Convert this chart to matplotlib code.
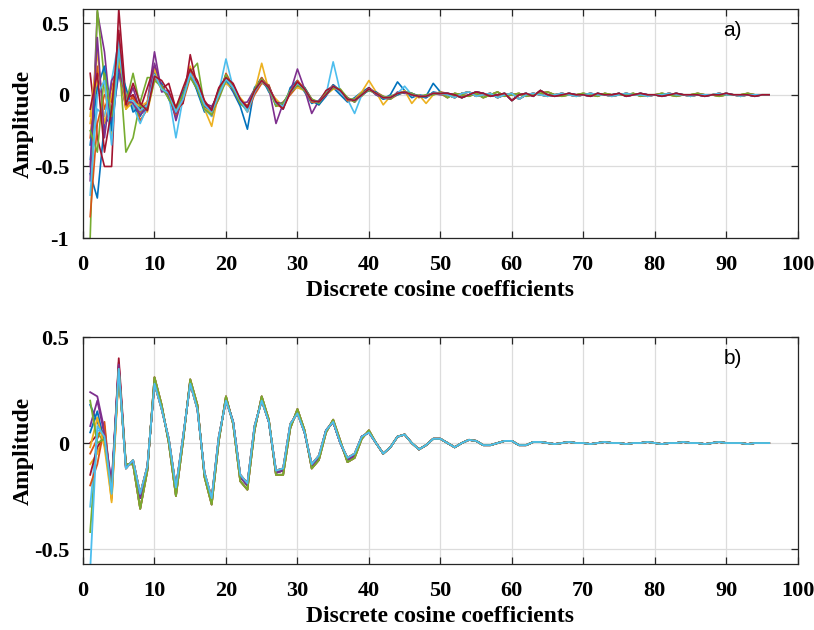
import matplotlib
matplotlib.use("Agg")
import matplotlib.pyplot as plt
import numpy as np

# matlab default colour order
blue = "#0072BD"
orange = "#D95319"
yellow = "#EDB120"
purple = "#7E2F8E"
green = "#77AC30"
ltblue = "#4DBEEE"
dkred = "#A2142F"

coef = np.arange(1, 97)

# ---- panel a: raw spectra, coefficients 1..50 per line, then shared tails 51..96
a_colors = [blue, orange, yellow, purple, green, ltblue, dkred,
            blue, orange, yellow, purple, green, ltblue, dkred]

a1 = [-0.55, -0.72, -0.20, -0.15, 0.30, -0.02, -0.08, -0.15, -0.05, 0.12,
      0.08, -0.03, -0.15, 0.00, 0.18, 0.02, -0.12, -0.10, 0.03, 0.10,
      0.02, -0.08, -0.24, 0.05, 0.12, 0.02, -0.05, -0.10, 0.05, 0.10,
      0.02, -0.06, -0.04, 0.02, 0.05, 0.00, -0.05, -0.02, 0.02, 0.05,
      0.00, -0.03, 0.00, 0.09, 0.03, -0.02, 0.00, -0.01, 0.08, 0.02]
a2 = [-0.30, 0.20, -0.10, 0.05, 0.20, -0.10, 0.00, -0.18, -0.10, 0.18,
      0.03, 0.02, -0.10, -0.05, 0.12, 0.08, -0.05, -0.15, -0.02, 0.15,
      0.06, -0.03, -0.12, 0.00, 0.08, 0.07, -0.08, -0.05, 0.00, 0.06,
      0.05, -0.03, -0.07, 0.01, 0.07, 0.02, -0.02, -0.05, 0.01, 0.03,
      0.02, -0.01, -0.03, 0.00, 0.02, 0.01, -0.02, 0.00, 0.00, 0.02]
a3 = [-0.20, 0.10, 0.05, -0.30, 0.35, 0.00, -0.10, -0.05, -0.12, 0.10,
      0.06, -0.02, -0.08, 0.02, 0.20, 0.04, -0.10, -0.22, 0.02, 0.08,
      0.04, -0.02, -0.08, 0.02, 0.22, 0.03, -0.03, -0.08, 0.03, 0.05,
      0.03, -0.05, -0.06, 0.00, 0.04, 0.04, -0.04, -0.03, 0.02, 0.10,
      0.02, -0.07, -0.01, 0.00, 0.03, -0.06, 0.00, -0.06, 0.00, 0.01]
a4 = [-0.60, 0.58, 0.30, -0.20, 0.15, -0.08, 0.05, -0.12, -0.05, 0.30,
      0.02, 0.03, -0.18, 0.00, 0.14, 0.06, -0.06, -0.08, 0.00, 0.14,
      0.03, -0.06, -0.05, 0.04, 0.09, 0.05, -0.20, -0.06, 0.02, 0.18,
      0.04, -0.13, -0.04, 0.01, 0.06, 0.02, -0.02, -0.05, 0.00, 0.04,
      0.00, -0.02, -0.03, 0.02, 0.01, 0.01, -0.01, -0.02, 0.01, 0.00]
a5 = [-1.00, 0.60, 0.10, -0.05, 0.28, -0.40, -0.30, -0.05, 0.12, 0.12,
      0.04, 0.00, -0.12, -0.04, 0.16, 0.22, -0.08, -0.12, -0.03, 0.10,
      0.06, -0.04, -0.10, 0.02, 0.11, 0.06, -0.07, -0.06, 0.01, 0.07,
      0.05, -0.03, -0.05, 0.00, 0.05, 0.03, -0.03, -0.03, -0.01, 0.04,
      0.01, -0.02, -0.01, 0.01, 0.02, 0.00, -0.01, 0.00, 0.01, 0.01]
a6 = [-0.45, -0.10, -0.15, 0.10, 0.38, -0.05, -0.08, -0.20, -0.08, 0.14,
      0.05, 0.00, -0.30, -0.02, 0.16, 0.05, -0.10, -0.15, 0.02, 0.25,
      0.05, -0.05, -0.12, 0.03, 0.10, 0.04, -0.06, -0.08, 0.03, 0.08,
      0.03, -0.04, -0.06, 0.00, 0.23, 0.02, -0.03, -0.13, 0.00, 0.04,
      0.01, -0.02, -0.02, 0.01, 0.06, 0.00, -0.01, -0.01, 0.01, 0.01]
a7 = [0.15, -0.30, -0.50, -0.50, 0.60, -0.03, 0.00, -0.10, 0.05, 0.20,
      0.04, 0.08, -0.10, -0.06, 0.28, 0.05, -0.06, -0.10, 0.04, 0.12,
      0.07, -0.04, -0.08, 0.02, 0.10, 0.06, -0.05, -0.07, 0.02, 0.09,
      0.03, -0.04, -0.05, 0.03, 0.06, 0.03, -0.03, -0.04, 0.00, 0.05,
      0.01, -0.02, -0.02, 0.01, 0.02, 0.00, -0.01, -0.01, 0.01, 0.01]
a8 = [-0.35, 0.05, 0.20, -0.25, 0.20, 0.05, -0.12, -0.08, -0.10, 0.16,
      0.05, -0.02, -0.12, 0.02, 0.13, 0.03, -0.10, -0.10, 0.02, 0.11,
      0.04, -0.06, -0.10, 0.04, 0.09, 0.04, -0.06, -0.06, 0.02, 0.08,
      0.05, -0.04, -0.07, -0.01, 0.07, 0.03, -0.03, -0.04, 0.00, 0.03,
      0.02, -0.03, -0.02, 0.00, 0.02, 0.01, -0.01, -0.02, 0.02, 0.01]
a9 = [-0.85, -0.20, 0.00, -0.05, 0.22, -0.08, -0.02, -0.12, -0.06, 0.12,
      0.06, -0.01, -0.14, -0.03, 0.17, 0.04, -0.07, -0.14, -0.01, 0.13,
      0.05, -0.05, -0.09, 0.03, 0.12, 0.05, -0.07, -0.09, 0.01, 0.10,
      0.04, -0.05, -0.05, 0.01, 0.05, 0.03, -0.04, -0.04, 0.01, 0.04,
      0.01, -0.02, -0.02, 0.01, 0.02, 0.00, -0.01, -0.01, 0.01, 0.01]
a10 = [-0.15, 0.30, -0.20, 0.00, 0.25, -0.10, -0.05, -0.08, -0.05, 0.18,
       0.04, 0.01, -0.11, -0.01, 0.14, 0.06, -0.09, -0.13, 0.00, 0.12,
       0.05, -0.05, -0.11, 0.03, 0.09, 0.05, -0.06, -0.07, 0.02, 0.08,
       0.04, -0.04, -0.05, 0.00, 0.06, 0.03, -0.03, -0.04, 0.00, 0.04,
       0.01, -0.02, -0.02, 0.01, 0.02, 0.00, -0.01, -0.01, 0.01, 0.01]
a11 = [-0.50, 0.40, -0.30, 0.10, 0.18, -0.02, -0.06, -0.14, -0.09, 0.22,
       0.05, 0.00, -0.13, -0.02, 0.15, 0.05, -0.08, -0.11, 0.00, 0.12,
       0.05, -0.05, -0.10, 0.03, 0.10, 0.05, -0.06, -0.07, 0.02, 0.08,
       0.04, -0.04, -0.05, 0.00, 0.06, 0.03, -0.03, -0.04, 0.00, 0.04,
       0.01, -0.02, -0.02, 0.01, 0.02, 0.00, -0.01, -0.01, 0.01, 0.01]
a12 = [-0.25, -0.40, 0.15, -0.15, 0.30, -0.06, 0.15, -0.08, -0.10, 0.10,
       0.06, -0.03, -0.10, 0.00, 0.12, 0.04, -0.10, -0.14, 0.01, 0.14,
       0.04, -0.06, -0.10, 0.04, 0.11, 0.04, -0.08, -0.06, 0.03, 0.07,
       0.03, -0.03, -0.06, 0.01, 0.05, 0.04, -0.02, -0.05, 0.01, 0.03,
       0.01, -0.01, -0.03, 0.01, 0.02, 0.01, -0.01, -0.01, 0.00, 0.02]
a13 = [-0.70, 0.00, 0.10, -0.35, 0.32, -0.04, -0.04, -0.11, -0.07, 0.14,
       0.04, 0.01, -0.12, -0.03, 0.15, 0.06, -0.07, -0.12, 0.00, 0.11,
       0.05, -0.04, -0.11, 0.02, 0.10, 0.05, -0.06, -0.08, 0.02, 0.08,
       0.04, -0.04, -0.05, 0.00, 0.06, 0.02, -0.03, -0.04, 0.00, 0.04,
       0.01, -0.02, -0.02, 0.01, 0.02, 0.00, -0.01, -0.01, 0.01, 0.01]
a14 = [-0.10, 0.15, -0.40, -0.10, 0.45, -0.07, 0.08, -0.06, -0.11, 0.13,
       0.10, 0.02, -0.09, 0.05, 0.18, 0.10, -0.04, -0.11, 0.05, 0.12,
       0.08, -0.03, -0.09, 0.03, 0.10, 0.05, -0.05, -0.10, 0.02, 0.09,
       0.04, -0.04, -0.05, 0.00, 0.06, 0.03, -0.03, -0.04, 0.00, 0.04,
       0.01, -0.02, -0.02, 0.01, 0.02, 0.00, -0.01, -0.01, 0.01, 0.01]

tail_a1 = [0.00, -0.02, 0.01, 0.02, -0.01, 0.00, 0.01, -0.02, 0.00, 0.01,
           -0.03, 0.00, 0.01, 0.00, -0.01, 0.00, 0.01, 0.00, -0.01, 0.00,
           0.01, 0.00, 0.00, -0.01, 0.00, 0.01, 0.00, 0.00, -0.01, 0.00,
           0.00, 0.01, 0.00, 0.00, -0.01, 0.00, 0.00, 0.00, 0.01, 0.00,
           0.00, -0.01, 0.00, 0.00, 0.00, 0.00]
tail_a2 = [0.01, 0.00, -0.02, 0.00, 0.02, 0.01, -0.01, 0.00, 0.01, -0.04,
           0.00, 0.01, -0.01, 0.03, 0.00, -0.01, 0.00, 0.01, 0.00, 0.00,
           -0.01, 0.01, 0.00, 0.00, 0.01, -0.01, 0.00, 0.01, 0.00, 0.00,
           -0.01, 0.00, 0.01, 0.00, 0.00, 0.00, -0.01, 0.00, 0.00, 0.01,
           0.00, 0.00, 0.00, -0.01, 0.00, 0.00]
tail_a3 = [-0.02, 0.01, 0.00, -0.01, 0.01, -0.02, 0.00, 0.02, -0.01, 0.00,
           0.01, -0.01, 0.00, 0.01, 0.02, 0.00, -0.01, 0.00, 0.00, 0.01,
           0.00, -0.01, 0.01, 0.00, 0.00, 0.00, 0.01, -0.01, 0.00, 0.00,
           0.01, 0.00, -0.01, 0.00, 0.00, 0.01, 0.00, 0.00, -0.01, 0.00,
           0.00, 0.00, 0.01, 0.00, 0.00, 0.00]

a_heads = [a1, a2, a3, a4, a5, a6, a7, a8, a9, a10, a11, a12, a13, a14]
a_tails = [tail_a1, tail_a2, tail_a3]

# ---- panel b: smoothed spectra, first 5 coefficients per line, then shared body
b_colors = [dkred, blue, orange, yellow, purple, green, ltblue,
            dkred, blue, orange, yellow, purple, green, ltblue]
b_heads = [
    [0.00, 0.04, 0.06, -0.24, 0.40],
    [0.18, 0.10, 0.02, -0.22, 0.35],
    [-0.05, 0.02, 0.10, -0.25, 0.34],
    [-0.10, -0.05, 0.05, -0.28, 0.33],
    [0.24, 0.22, 0.06, -0.20, 0.36],
    [-0.42, 0.05, 0.00, -0.22, 0.35],
    [-0.30, 0.06, 0.05, -0.22, 0.35],
    [-0.15, -0.02, 0.04, -0.23, 0.38],
    [0.05, 0.15, 0.00, -0.21, 0.34],
    [-0.20, -0.10, 0.08, -0.26, 0.35],
    [-0.02, 0.12, -0.02, -0.27, 0.34],
    [0.08, 0.20, 0.04, -0.19, 0.37],
    [0.20, 0.00, 0.02, -0.23, 0.35],
    [-0.60, 0.08, 0.03, -0.24, 0.35],
]
# coefficients 6..40
b_mid = [-0.11, -0.09, -0.26, -0.12, 0.29, 0.17, 0.01, -0.22, 0.02, 0.29,
         0.17, -0.15, -0.27, 0.02, 0.21, 0.10, -0.16, -0.20, 0.07, 0.21,
         0.10, -0.14, -0.13, 0.08, 0.15, 0.05, -0.11, -0.07, 0.06, 0.10,
         0.00, -0.08, -0.06, 0.03, 0.05]
b_mid_lo = [-0.10, -0.10, -0.31, -0.13, 0.31, 0.18, 0.00, -0.25, 0.01, 0.30,
            0.18, -0.16, -0.29, 0.01, 0.22, 0.09, -0.18, -0.22, 0.06, 0.22,
            0.11, -0.15, -0.15, 0.07, 0.16, 0.06, -0.12, -0.08, 0.05, 0.11,
            0.01, -0.09, -0.07, 0.02, 0.06]
b_mid_hi = [-0.12, -0.08, -0.24, -0.11, 0.28, 0.16, 0.02, -0.21, 0.03, 0.28,
            0.16, -0.14, -0.26, 0.03, 0.20, 0.10, -0.15, -0.19, 0.08, 0.20,
            0.10, -0.13, -0.12, 0.09, 0.14, 0.05, -0.10, -0.06, 0.06, 0.10,
            0.00, -0.07, -0.05, 0.03, 0.05]
# coefficients 41..96
b_tail = [0.00, -0.05, -0.02, 0.03, 0.04, 0.00, -0.03, -0.01, 0.02, 0.02,
          0.00, -0.02, 0.00, 0.015, 0.01, -0.01, -0.01, 0.00, 0.01, 0.01,
          -0.01, -0.01, 0.005, 0.005, 0.00, -0.005, 0.00, 0.005, 0.00, 0.00,
          -0.005, 0.00, 0.005, 0.00, 0.00, -0.005, 0.00, 0.00, 0.005, 0.00,
          -0.005, 0.00, 0.00, 0.005, 0.00, 0.00, -0.005, 0.00, 0.005, 0.00,
          0.00, 0.00, -0.005, 0.00, 0.00, 0.00]
b_mids = [b_mid_lo, b_mid_hi, b_mid]

serif = ["Liberation Serif", "DejaVu Serif"]
plt.rcParams["font.family"] = serif

fig = plt.figure(figsize=(8.14, 6.30), dpi=100)
ax1 = fig.add_axes([0.102, 0.622, 0.878, 0.364])
ax2 = fig.add_axes([0.102, 0.105, 0.878, 0.360])

for i, head in enumerate(a_heads):
    y = head + a_tails[i % 3]
    ax1.plot(coef, y, color=a_colors[i], lw=1.2)

for i, head in enumerate(b_heads):
    y = head + b_mids[i % 3] + b_tail
    ax2.plot(coef, y, color=b_colors[i], lw=1.3)

def style(ax, ylim, yticks, ylabels):
    ax.set_xlim(0, 100)
    ax.set_ylim(*ylim)
    ax.set_xticks(range(0, 101, 10))
    ax.set_yticks(yticks)
    ax.set_yticklabels(ylabels)
    ax.grid(True, color="#dcdcdc", lw=0.9)
    ax.set_axisbelow(True)
    ax.tick_params(direction="in", top=True, right=True, length=5,
                   width=0.9, color="#262626", labelsize=16, pad=10)
    ax.tick_params(axis="x", pad=12)
    for lab in ax.get_xticklabels() + ax.get_yticklabels():
        lab.set_fontweight("bold")
    for sp in ax.spines.values():
        sp.set_color("#262626")
        sp.set_linewidth(0.9)
    ax.set_xlabel("Discrete cosine coefficients", fontsize=17,
                  fontweight="bold", labelpad=4)
    ax.set_ylabel("Amplitude", fontsize=17, fontweight="bold", labelpad=0)

style(ax1, (-1, 0.6), [-1, -0.5, 0, 0.5], ["-1", "-0.5", "0", "0.5"])
style(ax2, (-0.57, 0.5), [-0.5, 0, 0.5], ["-0.5", "0", "0.5"])

ax1.text(89.6, 0.45, "a)", fontsize=15, family="Liberation Sans", va="center")
ax2.text(89.6, 0.40, "b)", fontsize=15, family="Liberation Sans", va="center")

fig.savefig("out.png", dpi=100)
